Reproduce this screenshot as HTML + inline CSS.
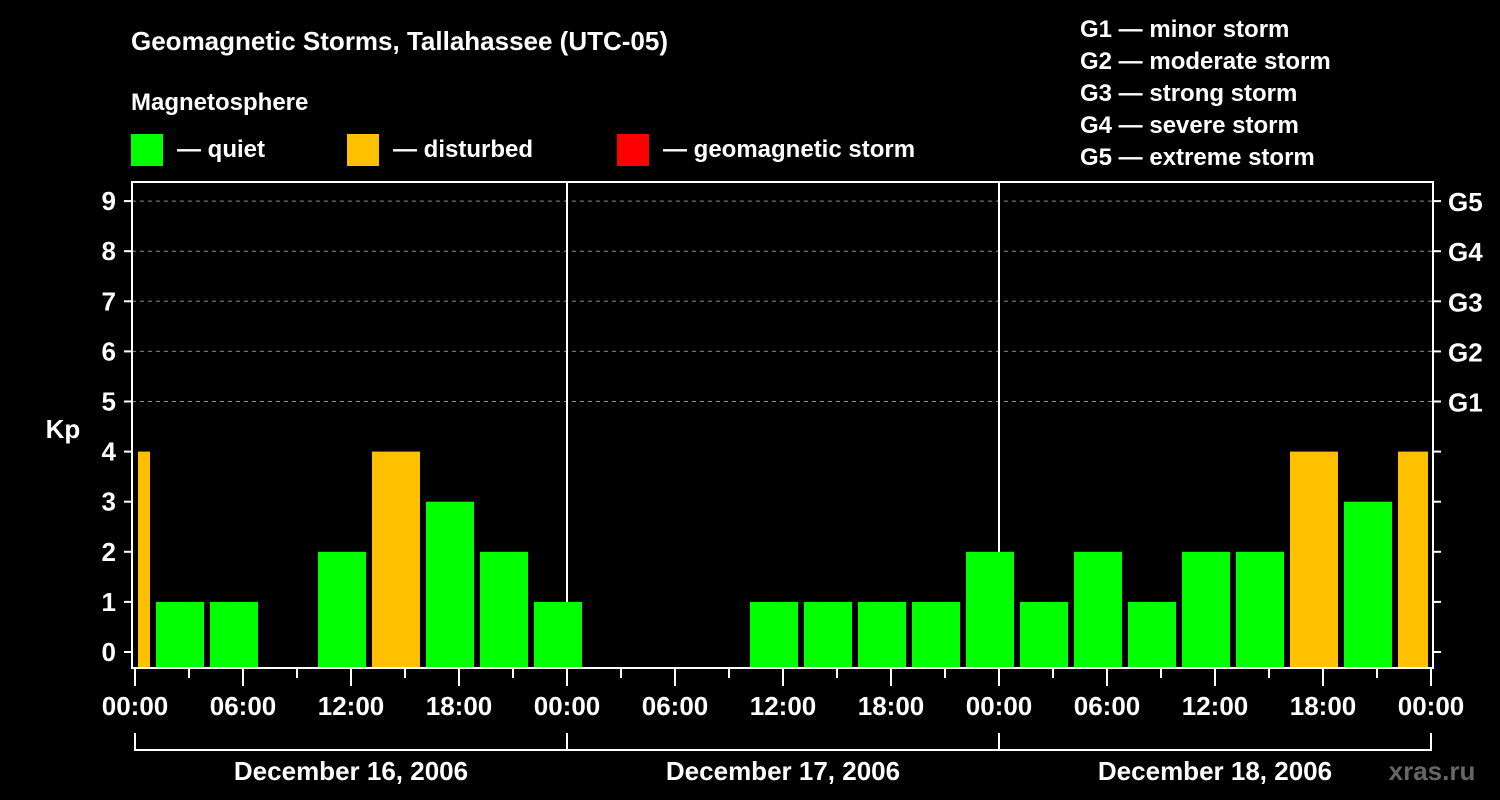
<!DOCTYPE html>
<html><head><meta charset="utf-8"><style>
body{margin:0;background:#000;}
svg{display:block;font-family:"Liberation Sans",Arial,sans-serif;font-weight:bold;}
</style></head><body>
<svg id="c" width="1500" height="800" viewBox="0 0 1500 800">
<rect width="1500" height="800" fill="#000"/>
<text x="131" y="50" fill="#fff" font-size="26">Geomagnetic Storms, Tallahassee (UTC-05)</text>
<text x="131" y="110" fill="#fff" font-size="24">Magnetosphere</text>
<g><rect x="131" y="134" width="32" height="32" fill="#00ff00"/><text x="177" y="157" fill="#fff" font-size="24">— quiet</text></g>
<g><rect x="347" y="134" width="32" height="32" fill="#ffc000"/><text x="393" y="157" fill="#fff" font-size="24">— disturbed</text></g>
<g><rect x="617" y="134" width="32" height="32" fill="#ff0000"/><text x="663" y="157" fill="#fff" font-size="24">— geomagnetic storm</text></g>
<g fill="#fff" font-size="24">
<text x="1080" y="37">G1 — minor storm</text>
<text x="1080" y="69">G2 — moderate storm</text>
<text x="1080" y="101">G3 — strong storm</text>
<text x="1080" y="133">G4 — severe storm</text>
<text x="1080" y="165">G5 — extreme storm</text>
</g>
<text x="63" y="438" fill="#fff" font-size="26" text-anchor="middle">Kp</text>
<text x="1432" y="780" fill="#666" font-size="26" text-anchor="middle">xras.ru</text>
<g id="grid"></g><g id="bars"></g><g id="axes"></g>
</svg>
<script>
const kpValues=[4,1,1,0,2,4,3,2,1,0,0,0,1,1,1,1,2,1,2,1,2,2,4,3,4];
const startHour=-2;
const blockHours=3;
const dayLabels=["December 16, 2006","December 17, 2006","December 18, 2006"];
const yTicks=[0,1,2,3,4,5,6,7,8,9];
const gLabels=["G1","G2","G3","G4","G5"];
const timeLabels=["00:00","06:00","12:00","18:00"];

const NS="http://www.w3.org/2000/svg";
const X0=135,PXH=18,Y0=652,PXK=50.1,FL=132,FR=1433,FT=182,FB=668;
const xs=h=>X0+h*PXH, ys=k=>Y0-k*PXK;
function mk(tag,attrs,parent,txt){const e=document.createElementNS(NS,tag);for(const k in attrs)e.setAttribute(k,attrs[k]);if(txt!==undefined)e.textContent=txt;document.getElementById(parent).appendChild(e);return e;}
// grid
yTicks.forEach(k=>{if(k>=5){const l=mk('line',{x1:FL,x2:FR,y1:ys(k),y2:ys(k),stroke:'#888','stroke-dasharray':'4,4','stroke-width':1},'grid');

}});
// day dividers
for(let d=1;d<dayLabels.length;d++){const l=mk('line',{x1:xs(24*d),x2:xs(24*d),y1:FT,y2:FB,stroke:'#fff','stroke-width':2},'grid');

}
// bars
const endH=24*dayLabels.length;
kpValues.forEach((v,i)=>{if(v<=0)return;
let h0=startHour+i*blockHours,h1=h0+blockHours;
let x0=Math.max(xs(h0),X0)+3,x1=Math.min(xs(h1),xs(endH))-3;
const r=mk('rect',{x:x0,y:ys(v),width:x1-x0,height:FB-ys(v),fill:v>=5?'#ff0000':(v>=4?'#ffc000':'#00ff00')},'bars');

});
// frame
const f=mk('rect',{x:FL,y:FT,width:FR-FL,height:FB-FT,fill:'none',stroke:'#fff','stroke-width':2},'axes');


yTicks.forEach(k=>{
mk('line',{x1:FL-8,x2:FL,y1:ys(k),y2:ys(k),stroke:'#fff','stroke-width':2},'axes');
mk('line',{x1:FR,x2:FR+8,y1:ys(k),y2:ys(k),stroke:'#fff','stroke-width':2},'axes');
const t=mk('text',{x:116,y:ys(k)+9,fill:'#fff','font-size':26,'text-anchor':'end'},'axes',String(k));


if(k>=5){const g=mk('text',{x:1448,y:ys(k)+10,fill:'#fff','font-size':26},'axes',gLabels[k-5]);

}
});
for(let h=0;h<=endH;h+=3){const major=h%6===0;
mk('line',{x1:xs(h),x2:xs(h),y1:FB,y2:major?686:678,stroke:'#fff','stroke-width':2},'axes');
if(major){const t=mk('text',{x:xs(h),y:715,fill:'#fff','font-size':26,'text-anchor':'middle'},'axes',timeLabels[(h/6)%4]);

}}
dayLabels.forEach((d,i)=>{const a=xs(24*i),b=xs(24*(i+1));
mk('path',{d:`M${a},733V750H${b}V733`,fill:'none',stroke:'#fff','stroke-width':2},'axes');
const t=mk('text',{x:(a+b)/2,y:780,fill:'#fff','font-size':26,'text-anchor':'middle'},'axes',d);

});
</script>
</body></html>
